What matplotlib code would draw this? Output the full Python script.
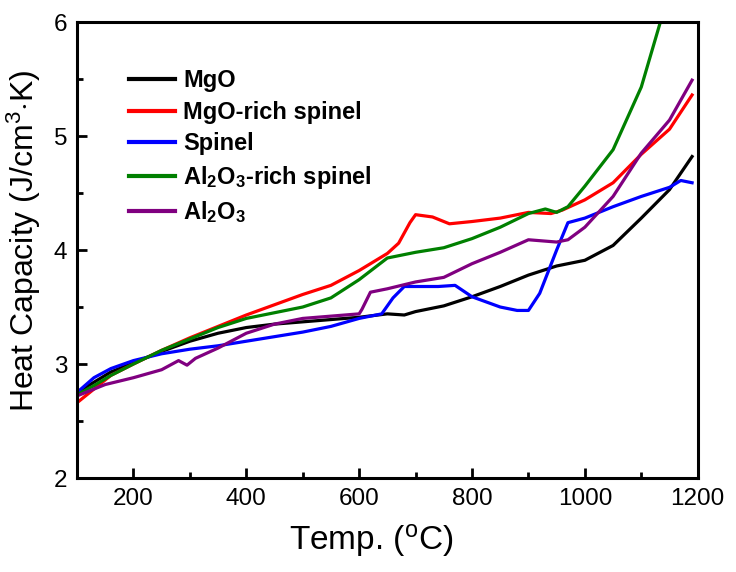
import matplotlib
matplotlib.use("Agg")
import matplotlib.pyplot as plt
from matplotlib.ticker import MultipleLocator

plt.rcParams['font.family'] = ['Liberation Sans', 'DejaVu Sans']
plt.rcParams['mathtext.fontset'] = 'custom'
plt.rcParams['mathtext.rm'] = 'Liberation Sans'
plt.rcParams['mathtext.bf'] = 'Liberation Sans:bold'
plt.rcParams['mathtext.it'] = 'Liberation Sans:italic'

# ---- data ----
t_mgo = [100, 130, 160, 200, 250, 300, 350, 400, 450, 500, 550, 600, 650, 680, 700, 750, 800, 850, 900, 950, 980, 1000, 1050, 1100, 1150, 1190]
cp_mgo = [2.75, 2.84, 2.93, 3.01, 3.11, 3.20, 3.27, 3.32, 3.35, 3.37, 3.39, 3.41, 3.44, 3.43, 3.46, 3.51, 3.59, 3.68, 3.78, 3.86, 3.89, 3.91, 4.04, 4.28, 4.53, 4.82]

t_mgorich = [100, 130, 160, 200, 250, 300, 350, 400, 450, 500, 550, 600, 650, 670, 690, 700, 730, 760, 800, 850, 900, 940, 960, 1000, 1050, 1100, 1150, 1190]
cp_mgorich = [2.66, 2.78, 2.90, 3.00, 3.12, 3.23, 3.33, 3.43, 3.52, 3.61, 3.69, 3.82, 3.97, 4.06, 4.24, 4.31, 4.29, 4.23, 4.25, 4.28, 4.33, 4.32, 4.35, 4.44, 4.59, 4.84, 5.06, 5.36]

t_spinel = [100, 130, 160, 200, 250, 300, 350, 400, 450, 500, 550, 600, 640, 660, 680, 700, 740, 770, 800, 850, 880, 900, 920, 950, 970, 1000, 1050, 1100, 1150, 1170, 1190]
cp_spinel = [2.75, 2.88, 2.96, 3.03, 3.09, 3.13, 3.16, 3.20, 3.24, 3.28, 3.33, 3.40, 3.44, 3.58, 3.68, 3.68, 3.68, 3.69, 3.59, 3.50, 3.47, 3.47, 3.62, 4.00, 4.24, 4.28, 4.38, 4.47, 4.55, 4.61, 4.59]

t_al2o3rich = [100, 130, 160, 200, 250, 300, 350, 400, 450, 500, 550, 600, 650, 700, 750, 800, 850, 900, 930, 950, 970, 1000, 1050, 1100, 1135]
cp_al2o3rich = [2.73, 2.81, 2.90, 3.00, 3.12, 3.22, 3.32, 3.40, 3.45, 3.50, 3.58, 3.74, 3.93, 3.98, 4.02, 4.10, 4.20, 4.32, 4.36, 4.33, 4.38, 4.56, 4.88, 5.43, 6.02]

t_al2o3 = [100, 150, 200, 250, 280, 295, 310, 350, 400, 450, 500, 550, 600, 605, 620, 650, 700, 750, 800, 850, 900, 950, 970, 1000, 1050, 1100, 1150, 1190]
cp_al2o3 = [2.72, 2.82, 2.88, 2.95, 3.03, 2.99, 3.05, 3.14, 3.27, 3.35, 3.40, 3.42, 3.44, 3.48, 3.63, 3.66, 3.72, 3.76, 3.88, 3.98, 4.09, 4.07, 4.09, 4.20, 4.47, 4.85, 5.14, 5.49]

series = [
    ("MgO", t_mgo, cp_mgo, "#000000"),
    ("MgO-rich spinel", t_mgorich, cp_mgorich, "#ff0000"),
    ("Spinel", t_spinel, cp_spinel, "#0000ff"),
    (r"Al$_\mathbf{2}$O$_\mathbf{3}$-rich spinel", t_al2o3rich, cp_al2o3rich, "#008000"),
    (r"Al$_\mathbf{2}$O$_\mathbf{3}$", t_al2o3, cp_al2o3, "#800080"),
]

fig = plt.figure(figsize=(7.36, 5.72), dpi=100)
ax = fig.add_axes([0.1046, 0.1643, 0.8434, 0.7972])

for label, t, cp, c in series:
    ax.plot(t, cp, color=c, lw=2.3, label=label)

ax.set_xlim(100, 1200)
ax.set_ylim(2, 6)
ax.xaxis.set_major_locator(MultipleLocator(200))
ax.xaxis.set_minor_locator(MultipleLocator(100))
ax.yaxis.set_major_locator(MultipleLocator(1))
ax.yaxis.set_minor_locator(MultipleLocator(0.5))
ax.tick_params(which='both', direction='in', width=2, labelsize=17.5)
ax.tick_params(which='major', length=7, pad=7)
ax.tick_params(which='minor', length=4.5)
ax.tick_params(axis='x', which='both', top=False)
ax.tick_params(axis='y', which='both', right=False)
for s in ax.spines.values():
    s.set_linewidth(2.2)

ax.set_xlabel(r"Temp. ($^\mathrm{o}$C)", fontsize=24, labelpad=9, x=0.4734)
ax.set_ylabel(r"Heat Capacity (J/cm$^\mathrm{3}$$\cdot$K)", fontsize=23, labelpad=8, y=0.521)

leg = ax.legend(loc='upper left', bbox_to_anchor=(0.084, 0.896), frameon=False,
                prop={'weight': 'bold', 'size': 17}, handlelength=1.95,
                handletextpad=0.34, labelspacing=0.36, borderaxespad=0, borderpad=0)
for h in leg.get_lines():
    h.set_linewidth(3)

fig.savefig("out.png", dpi=100)
